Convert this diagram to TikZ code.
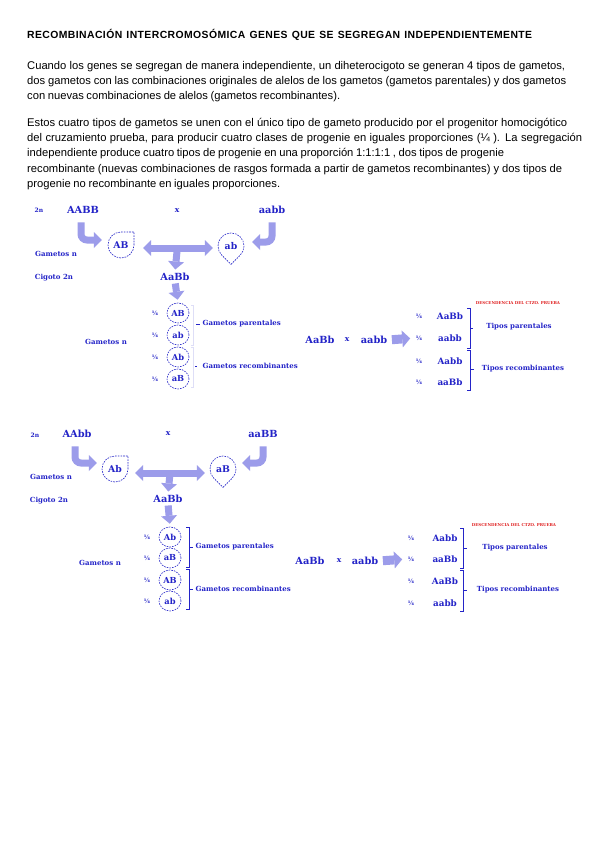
\documentclass[tikz,border=0pt]{standalone}
\usepackage{fontspec}
\setmainfont{Liberation Sans}
\newfontfamily\dfont{DejaVu Serif}
\newfontfamily\titlefont[LetterSpace=4]{Liberation Sans}
\usetikzlibrary{arrows.meta,shapes.geometric,calc}
\definecolor{tblue}{HTML}{2424C8}
\definecolor{ablue}{HTML}{9C9CEA}
\definecolor{tred}{HTML}{E02020}
\begin{document}
\begin{tikzpicture}[x=1pt,y=-1pt,
 body/.style={anchor=base west,inner sep=0pt,font=\fontsize{11.2}{13}\selectfont},
 lab/.style={text=tblue,inner sep=0.5pt,font=\dfont\bfseries\fontsize{#1}{#1}\selectfont},
 dsh/.style={draw=tblue,line width=0.6pt,dash pattern=on 1.6pt off 1.1pt},
 gam/.style={ellipse,dsh,minimum width=22pt,minimum height=20pt,inner sep=0pt,lab=8.3},
 big/.style={circle,minimum size=26pt,inner sep=0pt,lab=9.3},
 fat/.style={draw=ablue,line width=7pt,-{Triangle[length=8pt,width=16pt,line width=0pt]},rounded corners=6pt},
 fatboth/.style={draw=ablue,line width=7pt,{Triangle[length=8pt,width=16pt,line width=0pt]}-{Triangle[length=8pt,width=16pt,line width=0pt]}},
 blk/.style={draw=ablue,line width=9pt,-{Triangle[length=8pt,width=17pt,line width=0pt]}},
 brk/.style={draw=tblue,line width=0.8pt},
 faint/.style={draw=tblue!15,line width=0.8pt},
 fr/.style={lab=6},
 redtxt/.style={text=tred,inner sep=0pt,font=\dfont\bfseries\fontsize{4}{4.5}\selectfont}
]
\fill[white] (0,0) rectangle (600,848);
\useasboundingbox (0,0) rectangle (600,848);

% ---------- text ----------
\node[body,font=\titlefont\bfseries\fontsize{10.4}{12}\selectfont] (title) at (27,39) {\makebox[505pt][s]{RECOMBINACIÓN INTERCROMOSÓMICA GENES QUE SE SEGREGAN INDEPENDIENTEMENTE}};
\node[body] (l1) at (27,70) {\makebox[538pt][s]{Cuando los genes se segregan de manera independiente, un diheterocigoto se generan 4 tipos de gametos,}};
\node[body] (l2) at (27,85) {\makebox[539pt][s]{dos gametos con las combinaciones originales de alelos de los gametos (gametos parentales) y dos gametos}};
\node[body] (l3) at (27,100) {\makebox[313pt][s]{con nuevas combinaciones de alelos (gametos recombinantes).}};
\node[body] (l4) at (27,126) {\makebox[540pt][s]{Estos cuatro tipos de gametos se unen con el único tipo de gameto producido por el progenitor homocigótico}};
\node[body] (l5) at (27,141) {\makebox[555pt][s]{del cruzamiento prueba, para producir cuatro clases de progenie en iguales proporciones (¼ ). La segregación}};
\node[body] (l6) at (27,157) {\makebox[477pt][s]{independiente produce cuatro tipos de progenie en una proporción 1:1:1:1 , dos tipos de progenie}};
\node[body] (l7) at (27,172) {\makebox[535pt][s]{recombinante (nuevas combinaciones de rasgos formada a partir de gametos recombinantes) y dos tipos de}};
\node[body] (l8) at (27,187) {\makebox[253pt][s]{progenie no recombinante en iguales proporciones.}};

% ---------- diagram 1 ----------
\node[lab=6] (a2n) at (39,210) {2n};
\node[lab=9.8] (aP1) at (83,210) {AABB};
\node[lab=7.5] (ax) at (177,211) {x};
\node[lab=9.8] (aP2) at (272,210) {aabb};
\node[big] (aG1) at (121,245) {AB};
\node[big] (aG2) at (231,246) {ab};
\draw[dsh] ($(aG1.center)+(13,0)$) -- ++(0,-13) -- ++(-13,0) arc[start angle=270,end angle=0,radius=13];
\draw[dsh] ($(aG2.center)+(0,18.4)$) -- ($(aG2.center)+(45:13)$) arc[start angle=45,end angle=-225,radius=13] -- cycle;
\node[lab=7] (agn) at (56,254) {Gametos n};
\node[lab=7] (acg) at (54,278) {Cigoto 2n};
\node[lab=9.8] (aZ) at (175,277) {AaBb};
\draw[fat,shorten >=6pt] ([xshift=-2pt,yshift=-8pt]aP1.south) |- ([yshift=5pt]aG1.west);
\draw[fat,shorten >=8pt] ([yshift=-8pt]aP2.south) |- ([yshift=4pt]aG2.east);
\draw[fatboth] ([xshift=9pt,yshift=-3pt]aG1.east) -- coordinate[pos=0.49] (aT) ([xshift=-5pt,yshift=-2pt]aG2.west);
\draw[fat,shorten >=3pt] (aT) -- (aZ.north);
\node[gam] (ag1) at (178,313) {AB};
\node[gam] (ag2) at (178,335) {ab};
\node[gam] (ag3) at (178,357) {Ab};
\node[gam] (ag4) at (178,379) {aB};
\draw[fat,shorten <=2pt,shorten >=3pt] (aZ.south) -- (ag1.north);
\node[fr] (af1) at (155,313) {¼};
\node[fr] (af2) at (155,335) {¼};
\node[fr] (af3) at (155,357) {¼};
\node[fr] (af4) at (155,379) {¼};
\draw[faint] (191,305) -- (193,305) -- (193,345) -- (191,345);
\draw[faint] (191,347) -- (193,347) -- (193,387) -- (191,387);
\draw[brk] (196,324) -- (200,324);
\draw[brk] (195,366) -- (197,366);
\node[lab=7,anchor=west] (agp) at (202,324) {Gametos parentales};
\node[lab=7,anchor=west] (agr) at (202,366) {Gametos recombinantes};
\node[lab=7] (agn2) at (106,342) {Gametos n};
\node[lab=9.8] (ac1) at (320,340) {AaBb};
\node[lab=7.5] (acx) at (347,340) {x};
\node[lab=9.8] (ac2) at (374,340) {aabb};
\node[fr] (ar1) at (419,316) {¼};
\node[fr] (ar2) at (419,338) {¼};
\node[fr] (ar3) at (419,361) {¼};
\node[fr] (ar4) at (419,382) {¼};
\node[lab=8.8] (ao1) at (450,316) {AaBb};
\node[lab=8.8] (ao2) at (450,338) {aabb};
\node[lab=8.8] (ao3) at (450,361) {Aabb};
\node[lab=8.8] (ao4) at (450,382) {aaBb};
\draw[blk,shorten <=4pt,shorten >=5pt] (ac2.east) -- (ar2.west);
\draw[brk] (467,308) -- (470,308) -- (470,348) -- (467,348);
\draw[brk] (470,328) -- (473,328);
\draw[brk] (467,350) -- (470,350) -- (470,390) -- (467,390);
\draw[brk] (470,369) -- (474,369);
\node[lab=7] (atp) at (519,327) {Tipos parentales};
\node[lab=7] (atr) at (523,369) {Tipos recombinantes};
\node[redtxt] (ared) at (518,303) {DESCENDENCIA DEL CTZO. PRUEBA};

% ---------- diagram 2 ----------
\node[lab=6] (b2n) at (35,435) {2n};
\node[lab=9.8] (bP1) at (77,434) {AAbb};
\node[lab=7.5] (bx) at (168,434) {x};
\node[lab=9.8] (bP2) at (263,434) {aaBB};
\node[big] (bG1) at (115,469) {Ab};
\node[big] (bG2) at (223,469) {aB};
\draw[dsh] ($(bG1.center)+(13,0)$) -- ++(0,-13) -- ++(-13,0) arc[start angle=270,end angle=0,radius=13];
\draw[dsh] ($(bG2.center)+(0,18.4)$) -- ($(bG2.center)+(45:13)$) arc[start angle=45,end angle=-225,radius=13] -- cycle;
\node[lab=7] (bgn) at (51,477) {Gametos n};
\node[lab=7] (bcg) at (49,501) {Cigoto 2n};
\node[lab=9.8] (bZ) at (168,499) {AaBb};
\draw[fat,shorten >=5pt] ([xshift=-2pt,yshift=-8pt]bP1.south) |- ([yshift=6pt]bG1.west);
\draw[fat,shorten >=6pt] ([yshift=-8pt]bP2.south) |- ([yshift=6pt]bG2.east);
\draw[fatboth] ([xshift=7pt,yshift=-4pt]bG1.east) -- coordinate[pos=0.5] (bT) ([xshift=-5pt,yshift=-4pt]bG2.west);
\draw[fat,shorten >=3pt] (bT) -- (bZ.north);
\node[gam] (bg1) at (170,537) {Ab};
\node[gam] (bg2) at (170,558) {aB};
\node[gam] (bg3) at (170,580) {AB};
\node[gam] (bg4) at (170,601) {ab};
\draw[fat,shorten <=2pt,shorten >=3pt] (bZ.south) -- (bg1.north);
\node[fr] (bf1) at (147,537) {¼};
\node[fr] (bf2) at (147,558) {¼};
\node[fr] (bf3) at (147,580) {¼};
\node[fr] (bf4) at (147,601) {¼};
\draw[brk] (186,527) -- (189,527) -- (189,567) -- (186,567);
\draw[brk] (189,547) -- (193,547);
\draw[brk] (186,569) -- (189,569) -- (189,609) -- (186,609);
\draw[brk] (189,589) -- (193,589);
\node[lab=7,anchor=west] (bgp) at (195,547) {Gametos parentales};
\node[lab=7,anchor=west] (bgr) at (195,589) {Gametos recombinantes};
\node[lab=7] (bgn2) at (100,563) {Gametos n};
\node[lab=9.8] (bc1) at (310,561) {AaBb};
\node[lab=7.5] (bcx) at (339,561) {x};
\node[lab=9.8] (bc2) at (365,561) {aabb};
\node[fr] (br1) at (411,538) {¼};
\node[fr] (br2) at (411,559) {¼};
\node[fr] (br3) at (411,581) {¼};
\node[fr] (br4) at (411,603) {¼};
\node[lab=8.8] (bo1) at (445,538) {Aabb};
\node[lab=8.8] (bo2) at (445,559) {aaBb};
\node[lab=8.8] (bo3) at (445,581) {AaBb};
\node[lab=8.8] (bo4) at (445,603) {aabb};
\draw[blk,shorten <=4pt,shorten >=5pt] (bc2.east) -- (br2.west);
\draw[brk] (460,528) -- (463,528) -- (463,568) -- (460,568);
\draw[brk] (463,548) -- (467,548);
\draw[brk] (460,570) -- (463,570) -- (463,611) -- (460,611);
\draw[brk] (463,590) -- (467,590);
\node[lab=7] (btp) at (515,548) {Tipos parentales};
\node[lab=7] (btr) at (518,590) {Tipos recombinantes};
\node[redtxt] (bred) at (514,525) {DESCENDENCIA DEL CTZO. PRUEBA};
\end{tikzpicture}
\end{document}
